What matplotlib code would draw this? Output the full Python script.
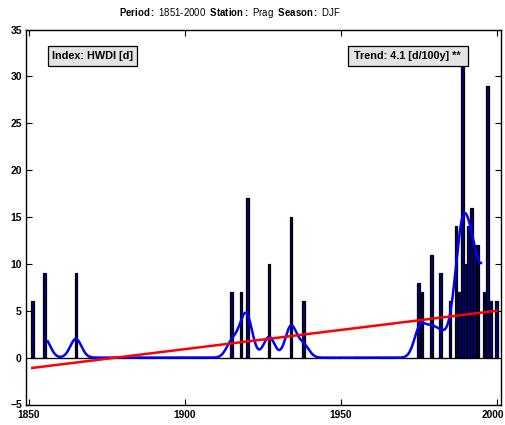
import matplotlib
matplotlib.use("Agg")
import matplotlib.pyplot as plt
import numpy as np
from matplotlib.patches import Rectangle

plt.rcParams['font.family'] = ['Liberation Sans', 'DejaVu Sans']
plt.rcParams['mathtext.fontset'] = 'custom'
plt.rcParams['mathtext.rm'] = 'Liberation Sans'
plt.rcParams['mathtext.bf'] = 'Liberation Sans:bold'

# HWDI [d] per winter, only years with events
event_years = [1851, 1855, 1865, 1915, 1918, 1920, 1927, 1934, 1938,
               1975, 1976, 1979, 1982, 1985, 1987, 1988, 1989, 1990,
               1991, 1992, 1993, 1994, 1996, 1997, 1998, 2000]
event_vals = [6, 9, 9, 7, 7, 17, 10, 15, 6,
              8, 7, 11, 9, 6, 14, 7, 32, 10,
              14, 16, 12, 12, 7, 29, 6, 6]

# linear trend end points
trend_years = [1851, 2000]
trend_vals = [-1.1, 5.0]

xticks = [1850, 1900, 1950, 2000]
yticks = [-5, 0, 5, 10, 15, 20, 25, 30, 35]

years = np.arange(1851, 2001)
vals = np.zeros(len(years))
for y, v in zip(event_years, event_vals):
    vals[y - 1851] = v

# gaussian low pass filter (11 yr window), drawn where the window is full
sigma = 1.8
xs = np.linspace(1856, 1995, 1400)
smooth = np.zeros_like(xs)
for y, v in zip(years, vals):
    smooth += v * np.exp(-(xs - y) ** 2 / (2 * sigma ** 2))
smooth /= sigma * np.sqrt(2 * np.pi)

fig = plt.figure(figsize=(5.06, 4.25), dpi=100)
ax = fig.add_axes([26 / 506, 1 - 404.5 / 425, 475 / 506, 375 / 425])

ax.plot([years[0] - 0.4, years[-1] + 0.4], [0, 0], color='black', lw=0.8,
        zorder=1)
ax.bar(years, vals, width=0.85, color='#000080', edgecolor='black',
       linewidth=0.9, zorder=2)
ax.plot(xs, smooth, color='#0000ff', lw=1.8, zorder=3)
ax.plot(trend_years, trend_vals, color='#ff0000', lw=1.8, zorder=4)

ax.set_xlim(1849, 2001.4)
ax.set_ylim(-5, 35)
ax.set_xticks(xticks)
ax.set_xticklabels([])
ax.set_yticks(yticks)
ax.set_yticklabels(['\u22125' if t < 0 else str(t) for t in yticks])
ax.tick_params(direction='in', length=4, width=0.8, top=True, right=True,
               labelsize=7.5)
ax.tick_params(axis='y', pad=3)
for lab in ax.get_yticklabels():
    lab.set_fontweight('bold')
for s in ax.spines.values():
    s.set_linewidth(1.0)

# x tick labels, last one nudged so it stays inside the figure
for t in xticks:
    dx = -2.5 if t == xticks[-1] else 0
    ax.annotate(str(t), (t, 0), xycoords=('data', 'axes fraction'),
                xytext=(dx, -4), textcoords='offset points',
                ha='center', va='top', fontsize=7.3, fontweight='bold')

# info boxes (axes fraction)
def box(x0, x1, label):
    l = (x0 - 26) / 475
    r = (x1 - 26) / 475
    b = (404.5 - 66) / 375
    t = (404.5 - 46) / 375
    ax.add_patch(Rectangle((l, b), r - l, t - b, transform=ax.transAxes,
                           facecolor='#e3e3e3', edgecolor='black', lw=0.9,
                           zorder=6))
    ax.text((l + r) / 2, (b + t) / 2, label, transform=ax.transAxes,
            ha='center', va='center', fontsize=7.8, fontweight='bold', zorder=7)

box(47.7, 137, 'Index: HWDI [d]')
box(347.5, 467.7, 'Trend: 4.1 [d/100y] **')

fig.text(230 / 506, 1 - 13.5 / 425,
         r'$\mathbf{Period{:}}$ 1851-2000  $\mathbf{Station{:}}$ Prag  '
         r'$\mathbf{Season{:}}$ DJF',
         ha='center', va='center', fontsize=6.9)

fig.savefig('out.png', dpi=100)
